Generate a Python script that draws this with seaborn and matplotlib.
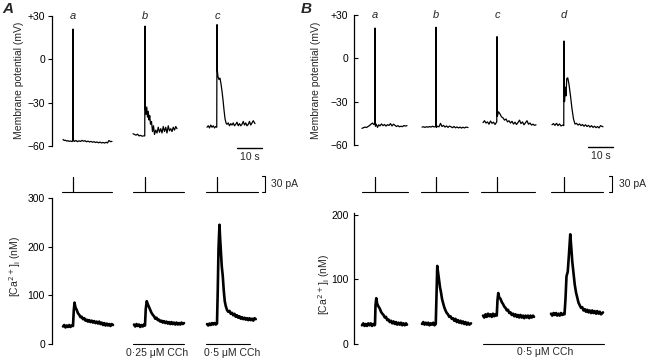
import numpy as np
import seaborn as sns
import matplotlib
matplotlib.use("Agg")
import matplotlib.pyplot as plt

# --- membrane potential traces (time from stimulus in s, mV) ---
A_MEM_A = [(-4.0, -55.5), (-3.5, -56.2), (-3.0, -56.0), (-2.5, -56.6), (-2.0, -56.3), (-1.5, -56.8),
           (-1.0, -56.5), (-0.5, -56.9), (-0.1, -56.7), (0.0, 21.0), (0.15, -56.0), (0.6, -56.8),
           (1.2, -56.2), (1.8, -57.0), (2.4, -56.4), (3.0, -56.9), (3.6, -56.1), (4.2, -56.7),
           (4.8, -56.3), (5.4, -57.1), (6.0, -56.6), (6.6, -57.2), (7.2, -56.8), (7.8, -57.4),
           (8.4, -57.0), (9.0, -57.6), (9.6, -57.2), (10.2, -57.8), (10.8, -57.3), (11.4, -57.9),
           (12.0, -57.5), (12.6, -58.0), (13.2, -57.4), (13.8, -57.9), (14.4, -56.2), (15.0, -57.0),
           (15.6, -56.8)]
A_MEM_B = [(-4.8, -51.5), (-4.2, -52.0), (-3.6, -52.5), (-3.0, -51.8), (-2.4, -53.0), (-1.8, -52.6),
           (-1.2, -53.2), (-0.6, -53.0), (-0.1, -53.0), (0.0, 23.0), (0.15, -34.0), (0.4, -38.0),
           (0.7, -33.0), (1.0, -40.0), (1.3, -36.0), (1.6, -42.0), (1.9, -39.0), (2.2, -45.0),
           (2.6, -43.0), (3.0, -50.0), (3.4, -46.0), (3.8, -52.0), (4.3, -49.0), (4.8, -51.0),
           (5.3, -47.0), (5.8, -50.5), (6.3, -48.0), (6.8, -51.0), (7.3, -46.5), (7.8, -50.0),
           (8.3, -47.0), (8.8, -51.0), (9.3, -46.0), (9.8, -49.5), (10.3, -48.0), (10.8, -50.0),
           (11.3, -47.0), (11.8, -49.0), (12.3, -46.5), (12.8, -48.0)]
A_MEM_C = [(-4.0, -47.0), (-3.5, -46.0), (-3.0, -47.5), (-2.5, -45.5), (-2.0, -47.0), (-1.5, -46.0),
           (-1.0, -47.5), (-0.5, -46.5), (-0.1, -47.0), (0.0, 24.0), (0.15, -8.0), (0.4, -12.0),
           (0.8, -14.0), (1.2, -13.0), (1.6, -17.0), (2.0, -22.0), (2.4, -28.0), (2.8, -35.0),
           (3.2, -41.0), (3.6, -44.0), (4.0, -45.0), (4.5, -44.0), (5.0, -46.0), (5.5, -44.5),
           (6.0, -45.5), (6.5, -44.0), (7.0, -46.0), (7.5, -45.0), (8.0, -43.5), (8.5, -46.0),
           (9.0, -44.5), (9.5, -46.0), (10.0, -45.0), (10.5, -43.0), (11.0, -45.5), (11.5, -44.0),
           (12.0, -46.0), (12.5, -45.0), (13.0, -43.0), (13.5, -45.5), (14.0, -44.0), (14.5, -42.5),
           (15.2, -44.5)]

B_MEM_A = [(-5.2, -48.5), (-4.6, -48.0), (-4.0, -47.6), (-3.4, -47.9), (-2.8, -47.2), (-2.2, -46.5),
           (-1.6, -45.6), (-1.0, -44.8), (-0.5, -45.8), (-0.1, -45.2), (0.0, 21.0), (0.15, -47.0),
           (0.5, -45.6), (1.0, -47.8), (1.5, -46.0), (2.0, -46.8), (2.6, -45.4), (3.2, -46.6),
           (3.8, -45.8), (4.4, -46.9), (5.0, -45.9), (5.6, -46.5), (6.2, -45.2), (6.8, -46.8),
           (7.4, -45.6), (8.0, -46.4), (8.6, -47.2), (9.2, -46.6), (9.8, -47.4), (10.4, -47.0),
           (11.0, -47.3), (11.6, -46.5), (12.2, -46.9), (12.8, -46.6)]
B_MEM_B = [(-5.6, -47.6), (-5.0, -47.4), (-4.4, -47.8), (-3.8, -47.3), (-3.2, -47.7), (-2.6, -47.2),
           (-2.0, -47.6), (-1.4, -47.0), (-0.8, -47.5), (-0.1, -47.2), (0.0, 21.5), (0.15, -47.8),
           (0.6, -47.0), (1.2, -47.4), (1.8, -45.0), (2.4, -47.2), (3.0, -46.4), (3.6, -47.6),
           (4.2, -46.8), (4.8, -47.8), (5.4, -46.9), (6.0, -47.4), (6.6, -48.0), (7.2, -47.2),
           (7.8, -48.1), (8.4, -47.5), (9.0, -48.2), (9.6, -47.6), (10.2, -48.3), (10.8, -47.7),
           (11.4, -48.2), (12.0, -47.6), (12.8, -47.9)]
B_MEM_C = [(-5.6, -44.5), (-5.0, -43.2), (-4.4, -44.8), (-3.8, -44.0), (-3.2, -45.6), (-2.6, -43.4),
           (-2.0, -45.0), (-1.4, -44.2), (-0.8, -45.8), (-0.1, -44.0), (0.0, 15.0), (0.15, -40.0),
           (0.6, -37.0), (1.2, -38.5), (1.8, -40.5), (2.4, -41.2), (3.0, -42.8), (3.6, -42.0),
           (4.2, -44.0), (4.8, -43.2), (5.4, -44.8), (6.0, -43.6), (6.6, -45.5), (7.2, -44.2),
           (7.8, -45.8), (8.4, -44.4), (9.0, -42.8), (9.6, -45.2), (10.2, -44.0), (10.8, -46.0),
           (11.4, -44.6), (12.0, -43.2), (12.6, -45.6), (13.2, -44.8), (13.8, -46.2), (14.4, -45.6),
           (15.0, -46.4), (15.6, -46.0)]
B_MEM_D = [(-4.8, -46.0), (-4.2, -45.2), (-3.6, -46.4), (-3.0, -45.0), (-2.4, -46.6), (-1.8, -45.4),
           (-1.2, -46.8), (-0.5, -46.2), (-0.1, -46.6), (0.0, 12.0), (0.2, -30.0), (0.5, -20.0),
           (0.8, -26.0), (1.1, -14.0), (1.5, -13.5), (2.0, -18.0), (2.6, -26.0), (3.2, -35.0),
           (3.8, -42.0), (4.4, -45.5), (5.0, -45.0), (5.6, -46.2), (6.2, -45.4), (6.8, -46.6),
           (7.4, -45.8), (8.0, -47.0), (8.6, -46.0), (9.2, -47.2), (9.8, -46.4), (10.4, -47.6),
           (11.0, -46.6), (11.6, -47.8), (12.2, -47.0), (12.8, -48.0), (13.4, -47.2), (14.0, -48.2),
           (14.6, -46.6), (15.6, -47.4)]

# --- injected current: (start, end) of each sweep, pulse height in pA ---
A_CUR_SPANS = [(-4.4, 15.6), (-4.8, 15.6), (-4.4, 16.4)]
B_CUR_SPANS = [(-5.2, 13.2), (-6.0, 12.8), (-6.4, 15.2), (-5.2, 15.6)]
STIM_PA = 28

# --- [Ca2+]i traces (time from stimulus in s, nM) ---
A_CA_A = [(-4.0, 36), (-3.5, 39), (-3.0, 34), (-2.5, 38), (-2.0, 35), (-1.5, 39), (-1.0, 35), (-0.5, 38),
          (0.0, 37), (0.3, 68), (0.6, 85), (1.0, 75), (1.5, 70), (2.0, 63), (2.5, 60), (3.0, 55),
          (3.5, 56), (4.0, 51), (4.5, 53), (5.0, 48), (5.5, 50), (6.0, 46), (6.5, 49), (7.0, 45),
          (7.5, 48), (8.0, 44), (8.5, 47), (9.0, 43), (9.5, 46), (10.0, 42), (10.5, 46), (11.0, 41),
          (11.5, 44), (12.0, 39), (12.5, 43), (13.0, 38), (13.5, 42), (14.0, 38), (14.5, 41),
          (15.0, 37), (15.5, 41), (16.0, 39)]
A_CA_B = [(-4.4, 40), (-3.9, 36), (-3.4, 41), (-2.9, 37), (-2.4, 40), (-1.9, 35), (-1.4, 39), (-0.9, 36),
          (-0.4, 40), (0.0, 38), (0.3, 72), (0.7, 88), (1.1, 82), (1.6, 76), (2.1, 70), (2.6, 64),
          (3.1, 60), (3.6, 57), (4.1, 52), (4.6, 54), (5.1, 49), (5.6, 50), (6.1, 46), (6.6, 48),
          (7.1, 44), (7.6, 47), (8.1, 43), (8.6, 46), (9.1, 42), (9.6, 45), (10.1, 41), (10.6, 45),
          (11.1, 41), (11.6, 44), (12.1, 40), (12.6, 44), (13.1, 40), (13.6, 43), (14.1, 40),
          (14.6, 44), (15.1, 41), (15.6, 43)]
A_CA_C = [(-4.0, 41), (-3.5, 38), (-3.0, 42), (-2.5, 39), (-2.0, 43), (-1.5, 40), (-1.0, 43), (-0.5, 40),
          (0.0, 42), (0.3, 110), (0.6, 195), (0.8, 222), (1.0, 245), (1.2, 222), (1.5, 195), (1.9, 160),
          (2.3, 140), (2.7, 110), (3.1, 88), (3.5, 78), (4.0, 70), (4.5, 66), (5.0, 68), (5.5, 62),
          (6.0, 64), (6.5, 59), (7.0, 62), (7.5, 56), (8.0, 59), (8.5, 54), (9.0, 57), (9.5, 52),
          (10.0, 55), (10.5, 51), (11.0, 54), (11.5, 50), (12.0, 53), (12.5, 49), (13.0, 53),
          (13.5, 49), (14.0, 52), (14.5, 48), (15.0, 53), (15.5, 51)]

B_CA_A = [(-5.2, 29), (-4.7, 32), (-4.2, 28), (-3.7, 31), (-3.2, 28), (-2.7, 32), (-2.2, 29), (-1.7, 32),
          (-1.2, 28), (-0.7, 31), (-0.2, 29), (0.0, 30), (0.2, 60), (0.5, 71), (0.9, 62), (1.4, 58),
          (1.9, 55), (2.4, 50), (2.9, 47), (3.4, 45), (3.9, 41), (4.4, 42), (4.9, 37), (5.4, 38),
          (5.9, 34), (6.4, 36), (6.9, 32), (7.4, 35), (7.9, 31), (8.4, 34), (8.9, 30), (9.4, 33),
          (9.9, 30), (10.4, 33), (10.9, 29), (11.4, 32), (11.9, 29), (12.4, 32), (12.8, 30)]
B_CA_B = [(-5.6, 31), (-5.1, 34), (-4.6, 30), (-4.1, 33), (-3.6, 30), (-3.1, 33), (-2.6, 29), (-2.1, 32),
          (-1.6, 30), (-1.1, 33), (-0.6, 29), (-0.1, 31), (0.2, 75), (0.5, 121), (0.8, 112), (1.2, 100),
          (1.6, 88), (2.0, 80), (2.4, 70), (2.8, 64), (3.3, 57), (3.8, 52), (4.3, 48), (4.8, 46),
          (5.3, 42), (5.8, 43), (6.3, 39), (6.8, 40), (7.3, 36), (7.8, 39), (8.3, 34), (8.8, 37),
          (9.3, 33), (9.8, 36), (10.3, 32), (10.8, 35), (11.3, 31), (11.8, 34), (12.3, 30), (12.8, 33),
          (13.3, 30), (14.0, 32)]
B_CA_C = [(-5.6, 44), (-5.1, 41), (-4.6, 46), (-4.1, 42), (-3.6, 47), (-3.1, 43), (-2.6, 46), (-2.1, 42),
          (-1.6, 47), (-1.1, 43), (-0.6, 46), (-0.1, 44), (0.2, 68), (0.5, 79), (0.9, 72), (1.4, 70),
          (1.9, 65), (2.4, 62), (2.9, 58), (3.4, 56), (3.9, 52), (4.4, 53), (4.9, 48), (5.4, 49),
          (5.9, 45), (6.4, 47), (6.9, 43), (7.4, 46), (7.9, 42), (8.4, 45), (8.9, 41), (9.4, 45),
          (9.9, 41), (10.4, 44), (10.9, 40), (11.4, 44), (11.9, 41), (12.4, 44), (12.9, 40),
          (13.4, 44), (13.9, 41), (14.4, 44), (14.8, 42)]
B_CA_D = [(-5.2, 47), (-4.7, 44), (-4.2, 48), (-3.7, 45), (-3.2, 48), (-2.7, 44), (-2.2, 47), (-1.7, 44),
          (-1.2, 48), (-0.7, 45), (-0.2, 47), (0.2, 46), (0.6, 70), (1.0, 105), (1.5, 112), (2.0, 140),
          (2.5, 170), (2.9, 150), (3.3, 128), (3.8, 110), (4.3, 92), (4.8, 80), (5.3, 72), (5.8, 64),
          (6.3, 60), (6.8, 56), (7.3, 57), (7.8, 52), (8.3, 54), (8.8, 50), (9.3, 53), (9.8, 49),
          (10.3, 52), (10.8, 48), (11.3, 52), (11.8, 48), (12.3, 51), (12.8, 47), (13.3, 51),
          (13.8, 47), (14.3, 50), (14.8, 46), (15.6, 49)]

A_LETTERS = ["a", "b", "c"]
B_LETTERS = ["a", "b", "c", "d"]
MEM_TICKS = [-60, -30, 0, 30]
MEM_TICKLABELS = ["\u221260", "\u221230", "0", "+30"]
A_CA_TICKS = [0, 100, 200, 300]
B_CA_TICKS = [0, 100, 200]

# layout: sweep positions along each panel's time axis (s)
A_OFFSETS = [8.4, 37.2, 66.0]
B_OFFSETS = [8.4, 32.8, 57.2, 84.0]

W, H = 646, 362
PX_PER_S = 2.5

sns.set_theme(style="ticks")
plt.rcParams["font.family"] = ["Liberation Sans", "DejaVu Sans"]
plt.rcParams["axes.linewidth"] = 0.9

fig = plt.figure(figsize=(W / 100, H / 100), dpi=100)


def add_ax(left, top, right, bottom):
    ax = fig.add_axes([left / W, 1 - bottom / H, (right - left) / W, (bottom - top) / H])
    ax.set_xlim(0, (right - left) / PX_PER_S)
    ax.patch.set_alpha(0)
    return ax


def draw(ax, trace, offset, lw):
    t, v = zip(*trace)
    sns.lineplot(x=np.array(t) + offset, y=list(v), ax=ax, color="black", lw=lw,
                 estimator=None, sort=False)


def style_axis(ax, ticks, labels, direction):
    sns.despine(ax=ax, bottom=True)
    ax.set_xticks([])
    ax.set_yticks(ticks)
    ax.set_yticklabels(labels)
    ax.tick_params(axis="y", direction=direction, length=3, width=0.8, labelsize=7.5,
                   pad=2 if direction == "out" else 4, colors="black")
    ax.spines["left"].set_color("black")
    ax.set_xlabel("")
    ax.set_ylabel("")


# --- panel A ---
ax = add_ax(52, 16, 272, 146)
ax.set_ylim(-60, 30)
for tr, off, lt in zip([A_MEM_A, A_MEM_B, A_MEM_C], A_OFFSETS, A_LETTERS):
    draw(ax, tr, off, 0.9)
    ax.text(off, 30, lt, style="italic", fontsize=8, ha="center", va="center")
style_axis(ax, MEM_TICKS, MEM_TICKLABELS, "out")
ax.plot([74, 84], [-61.5, -61.5], color="black", lw=1, clip_on=False)
ax.text(79, -64, "10 s", fontsize=7.5, ha="center", va="top")

ax = add_ax(52, 173.3, 272, 194.7)
ax.set_ylim(-5, 35)
for (s, e), off in zip(A_CUR_SPANS, A_OFFSETS):
    draw(ax, [(s, 0), (0, 0), (0, STIM_PA), (0, 0), (e, 0)], off, 0.8)
ax.plot([84.0, 85.2, 85.2, 84.0], [30, 30, 0, 0], color="black", lw=0.8, clip_on=False)
ax.text(87.6, 15, "30 pA", fontsize=7.5, ha="left", va="center")
ax.axis("off")

ax = add_ax(52, 198, 272, 344)
ax.set_ylim(0, 300)
for tr, off in zip([A_CA_A, A_CA_B, A_CA_C], A_OFFSETS):
    draw(ax, tr, off, 1.9)
style_axis(ax, A_CA_TICKS, [str(v) for v in A_CA_TICKS], "out")
ax.plot([32.4, 52.8], [-0.5, -0.5], color="black", lw=0.8, clip_on=False)
ax.plot([61.6, 79.2], [-0.5, -0.5], color="black", lw=0.8, clip_on=False)
ax.text(42.0, -18, "0\u00b725 \u03bcM CCh", fontsize=7.5, ha="center", va="center")
ax.text(72.0, -18, "0\u00b75 \u03bcM CCh", fontsize=7.5, ha="center", va="center")

# --- panel B ---
ax = add_ax(354, 15, 640, 145)
ax.set_ylim(-60, 30)
for tr, off, lt in zip([B_MEM_A, B_MEM_B, B_MEM_C, B_MEM_D], B_OFFSETS, B_LETTERS):
    draw(ax, tr, off, 0.9)
    ax.text(off, 30, lt, style="italic", fontsize=8, ha="center", va="center")
style_axis(ax, MEM_TICKS, MEM_TICKLABELS, "in")
ax.plot([93.6, 103.6], [-61.5, -61.5], color="black", lw=1, clip_on=False)
ax.text(98.6, -64, "10 s", fontsize=7.5, ha="center", va="top")

ax = add_ax(354, 173.3, 640, 194.7)
ax.set_ylim(-5, 35)
for (s, e), off in zip(B_CUR_SPANS, B_OFFSETS):
    draw(ax, [(s, 0), (0, 0), (0, STIM_PA), (0, 0), (e, 0)], off, 0.8)
ax.plot([102.0, 103.2, 103.2, 102.0], [30, 30, 0, 0], color="black", lw=0.8, clip_on=False)
ax.text(106.0, 15, "30 pA", fontsize=7.5, ha="left", va="center")
ax.axis("off")

ax = add_ax(354, 213, 640, 344)
ax.set_ylim(0, 203)
for tr, off in zip([B_CA_A, B_CA_B, B_CA_C, B_CA_D], B_OFFSETS):
    draw(ax, tr, off, 1.9)
style_axis(ax, B_CA_TICKS, [str(v) for v in B_CA_TICKS], "in")
ax.plot([51.6, 100.0], [-0.5, -0.5], color="black", lw=0.8, clip_on=False)
ax.text(76.4, -13, "0\u00b75 \u03bcM CCh", fontsize=7.5, ha="center", va="center")

# --- axis titles and panel letters ---
fig.text(19 / W, 1 - 80 / H, "Membrane potential (mV)", rotation=90, fontsize=7.5,
         ha="center", va="center")
fig.text(316 / W, 1 - 80 / H, "Membrane potential (mV)", rotation=90, fontsize=7.5,
         ha="center", va="center")
fig.text(15 / W, 1 - 267 / H, r"[Ca$^{2+}$]$_\mathrm{i}$ (nM)", rotation=90, fontsize=7.5,
         ha="center", va="center")
fig.text(324 / W, 1 - 285 / H, r"[Ca$^{2+}$]$_\mathrm{i}$ (nM)", rotation=90, fontsize=7.5,
         ha="center", va="center")
fig.text(8 / W, 1 - 9 / H, "A", fontsize=11, fontweight="bold", style="italic",
         ha="center", va="center")
fig.text(306 / W, 1 - 9 / H, "B", fontsize=11, fontweight="bold", style="italic",
         ha="center", va="center")

fig.savefig("out.png", dpi=100, facecolor="white")
